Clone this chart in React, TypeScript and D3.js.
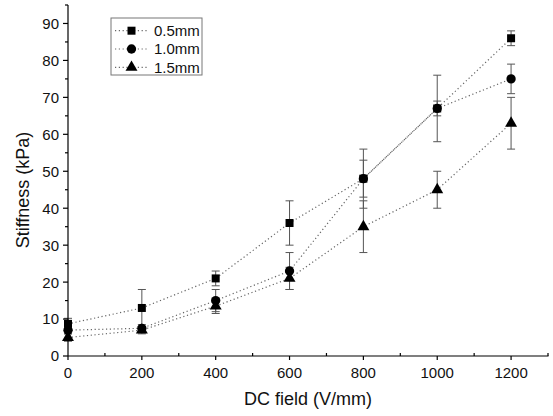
import React from "react";
import * as d3 from "d3";

const fields = [0, 200, 400, 600, 800, 1000, 1200];
const seriesNames = ["0.5mm", "1.0mm", "1.5mm"];
const stiff05 = [8.7, 13, 21, 36, 48, 67, 86];
const err05 = [1.5, 5, 2, 6, 5, 9, 2];
const stiff10 = [7, 7.5, 15, 23, 48, 67, 75];
const err10 = [1, 1, 3, 5, 8, 2, 4];
const stiff15 = [5, 7, 13.5, 21, 35, 45, 63];
const err15 = [1, 1, 2, 3, 7, 5, 7];
const xTicks = [0, 200, 400, 600, 800, 1000, 1200];
const yTicks = [0, 10, 20, 30, 40, 50, 60, 70, 80, 90];

const W = 553;
const H = 416;

export default function App() {
  const x = d3.scaleLinear().domain([0, 1300]).range([68, 548]);
  const y = d3.scaleLinear().domain([0, 95]).range([356, 5]);
  const series = [
    { name: seriesNames[0], vals: stiff05, errs: err05, sym: d3.symbolSquare, size: 64 },
    { name: seriesNames[1], vals: stiff10, errs: err10, sym: d3.symbolCircle, size: 68 },
    { name: seriesNames[2], vals: stiff15, errs: err15, sym: d3.symbolTriangle, size: 62 },
  ];
  const line = d3
    .line<number>()
    .x((_, i) => x(fields[i]))
    .y((v) => y(v));
  const xMinor = d3.range(100, 1301, 200);
  const yMinor = d3.range(5, 96, 10);
  const font = "Arial, 'Liberation Sans', sans-serif";
  const legendX = 111;
  const legendY = 18;
  return (
    <svg
      width={W}
      height={H}
      style={{ position: "absolute", left: 0, top: 0, background: "#fff" }}
      fontFamily={font}
    >
      <rect x={0} y={0} width={W} height={H} fill="#fff" />
      {/* dotted lines */}
      {series.map((s) => (
        <path
          key={"l" + s.name}
          d={line(s.vals) || ""}
          fill="none"
          stroke="#666"
          strokeWidth={1.2}
          strokeDasharray="1.2,2.6"
        />
      ))}
      {/* error bars */}
      {series.map((s) =>
        s.vals.map((v, i) => {
          const cx = x(fields[i]);
          const top = y(v + s.errs[i]);
          const bot = y(v - s.errs[i]);
          return (
            <g key={"e" + s.name + i} stroke="#555" strokeWidth={1}>
              <line x1={cx} x2={cx} y1={top} y2={bot} />
              <line x1={cx - 4} x2={cx + 4} y1={top} y2={top} />
              <line x1={cx - 4} x2={cx + 4} y1={bot} y2={bot} />
            </g>
          );
        })
      )}
      {/* markers */}
      {series.map((s) =>
        s.vals.map((v, i) => (
          <path
            key={"m" + s.name + i}
            d={d3.symbol().type(s.sym).size(s.size)() || ""}
            transform={`translate(${x(fields[i])},${y(v)})`}
            fill="#000"
          />
        ))
      )}
      {/* axes */}
      <line x1={68} x2={68} y1={5} y2={356} stroke="#000" strokeWidth={1.2} />
      <line x1={68} x2={548.5} y1={356} y2={356} stroke="#000" strokeWidth={1.2} />
      {yTicks.map((t) => (
        <g key={"yt" + t}>
          <line x1={63} x2={68} y1={y(t)} y2={y(t)} stroke="#000" strokeWidth={1.2} />
          <text x={59} y={y(t)} dy="0.36em" textAnchor="end" fontSize={15} fill="#111">
            {t}
          </text>
        </g>
      ))}
      {yMinor.map((t) => (
        <line key={"ym" + t} x1={65} x2={68} y1={y(t)} y2={y(t)} stroke="#000" strokeWidth={1.2} />
      ))}
      {xTicks.map((t) => (
        <g key={"xt" + t}>
          <line x1={x(t)} x2={x(t)} y1={356} y2={360} stroke="#000" strokeWidth={1.2} />
          <text x={x(t)} y={378} textAnchor="middle" fontSize={15} fill="#111">
            {t}
          </text>
        </g>
      ))}
      {xMinor.map((t) => (
        <line key={"xm" + t} x1={x(t)} x2={x(t)} y1={353} y2={356} stroke="#000" strokeWidth={1.2} />
      ))}
      <text x={308} y={405} textAnchor="middle" fontSize={18} fill="#111">
        DC field (V/mm)
      </text>
      <text
        transform={`translate(29,190) rotate(-90)`}
        textAnchor="middle"
        fontSize={18}
        fill="#111"
      >
        Stiffness (kPa)
      </text>
      {/* legend */}
      <rect x={legendX} y={legendY} width={91} height={57} fill="#fff" stroke="#777" strokeWidth={1} />
      {series.map((s, i) => {
        const ly = 30.7 + i * 18.3;
        return (
          <g key={"lg" + s.name}>
            <line
              x1={115}
              x2={147}
              y1={ly}
              y2={ly}
              stroke="#666"
              strokeWidth={1.2}
              strokeDasharray="1.2,2.6"
            />
            <path
              d={d3.symbol().type(s.sym).size(s.size)() || ""}
              transform={`translate(131.5,${ly})`}
              fill="#000"
            />
            <text x={154} y={ly} dy="0.36em" fontSize={15} fill="#111">
              {s.name}
            </text>
          </g>
        );
      })}
    </svg>
  );
}
